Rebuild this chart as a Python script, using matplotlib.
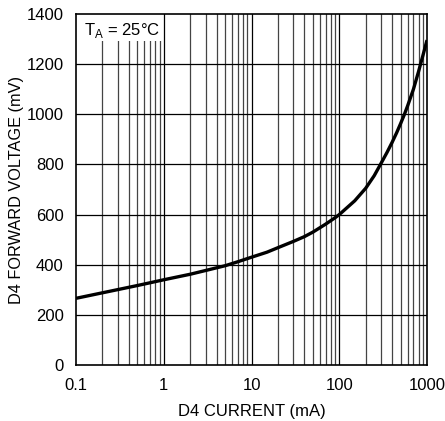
import numpy as np
import matplotlib
matplotlib.use("Agg")
import matplotlib.pyplot as plt

# data (current in mA, voltage in mV)
current_ma = [0.1, 0.2, 0.5, 1, 2, 3, 5, 7, 10, 15, 20, 30, 40, 50, 70, 90,
              100, 150, 200, 250, 300, 350, 400, 450, 500, 550, 600, 700, 800,
              900, 1000]
voltage_mv = [266, 288, 317, 340, 362, 377, 396, 412, 430, 450, 468, 493, 512,
              530, 562, 588, 600, 655, 705, 755, 805, 848, 888, 926, 963, 998,
              1033, 1100, 1170, 1236, 1296]

xticks = [0.1, 1, 10, 100, 1000]
xtick_labels = ["0.1", "1", "10", "100", "1000"]
yticks = [0, 200, 400, 600, 800, 1000, 1200, 1400]

plt.rcParams['font.family'] = ['Liberation Sans', 'DejaVu Sans']
plt.rcParams['mathtext.fontset'] = 'custom'
plt.rcParams['mathtext.rm'] = 'Liberation Sans'

fig = plt.figure(figsize=(4.45, 4.21), dpi=100)
ax = fig.add_axes([0.1708, 0.133, 0.7888, 0.8337])

ax.set_xscale("log")
ax.set_xlim(0.1, 1000)
ax.set_ylim(0, 1400)

# grid: minor verticals, decade verticals, horizontals
minor_x = [m * 10.0 ** d for d in range(-1, 3) for m in range(2, 10)]
for xv in minor_x:
    ax.axvline(xv, color="#444444", lw=0.9, zorder=1)
for xv in xticks[1:-1]:
    ax.axvline(xv, color="black", lw=0.9, zorder=3)
for yv in yticks[1:-1]:
    ax.axhline(yv, color="black", lw=0.9, zorder=1)

ax.plot(current_ma, voltage_mv, color="black", lw=2.4, zorder=4,
        solid_capstyle="butt", solid_joinstyle="round")

# white label box covering the grid in the top-left corner
ax.add_patch(plt.Rectangle((0, 0.923), 0.249, 0.08, transform=ax.transAxes,
                           facecolor="white", edgecolor="none", zorder=2))
ax.text(0.023, 0.941, r"T$_\mathrm{A}$ = 25°C", transform=ax.transAxes,
        fontsize=12, ha="left", va="baseline", zorder=2.5)

ax.set_xticks(xticks)
ax.set_xticklabels(xtick_labels)
ax.set_xticks([], minor=True)
ax.set_yticks(yticks)
ax.tick_params(length=0, labelsize=12, pad=9)

for s in ax.spines.values():
    s.set_linewidth(1.2)
    s.set_zorder(5)

ax.set_xlabel("D4 CURRENT (mA)", fontsize=12, labelpad=8)
ax.set_ylabel("D4 FORWARD VOLTAGE (mV)", fontsize=11.7, labelpad=2)

fig.savefig("out.png", dpi=100)
